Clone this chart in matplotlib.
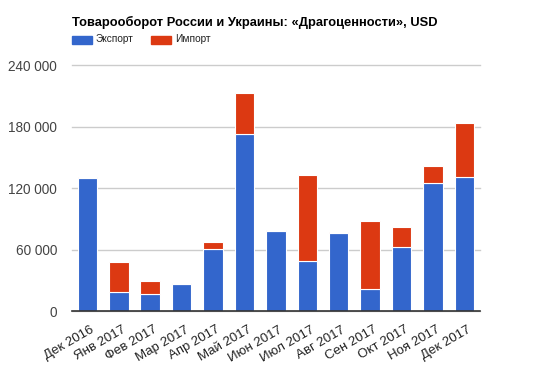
import matplotlib
matplotlib.use("Agg")
import matplotlib.pyplot as plt
from matplotlib.patches import Rectangle
from matplotlib.transforms import ScaledTranslation

categories = ["Дек 2016", "Янв 2017", "Фев 2017", "Мар 2017", "Апр 2017", "Май 2017",
              "Июн 2017", "Июл 2017", "Авг 2017", "Сен 2017", "Окт 2017", "Ноя 2017", "Дек 2017"]
export_vals = [130300, 18500, 17200, 26900, 61100, 173300, 78600, 49400, 76700, 22000, 63000, 124900, 130700]
import_vals = [1000, 29900, 12700, 600, 6500, 39700, 700, 83600, 500, 66100, 19200, 16900, 53000]
yticks = [0, 60000, 120000, 180000, 240000]
ytick_labels = ["0", "60 000", "120 000", "180 000", "240 000"]

BLUE = "#3366cc"
RED = "#dc3912"

plt.rcParams['font.family'] = ['Liberation Sans', 'DejaVu Sans']

fig = plt.figure(figsize=(5.46, 3.75), dpi=100)
ax = fig.add_axes([71.7/546, 1-311.3/375, (480-71.7)/546, (311.3-65.3)/375])

x = list(range(len(categories)))
w = 0.62
ax.bar(x, export_vals, width=w, color=BLUE, edgecolor="white", linewidth=0.8, zorder=3)
ax.bar(x, import_vals, width=w, bottom=export_vals, color=RED, edgecolor="white", linewidth=0.8, zorder=3)

ax.set_xlim(-0.5, len(categories) - 0.5)
ax.set_ylim(0, 240000)
ax.set_yticks(yticks)
ax.set_yticklabels(ytick_labels)
ax.yaxis.grid(True, color="#cccccc", linewidth=1, zorder=0)
ax.set_axisbelow(True)
for s in ["top", "right", "left"]:
    ax.spines[s].set_visible(False)
ax.spines["bottom"].set_color("#333333")
ax.spines["bottom"].set_linewidth(1.2)
ax.spines["bottom"].set_zorder(4)
ax.tick_params(axis="y", length=0, pad=10.6, labelsize=9.8, labelcolor="#444444")
ax.tick_params(axis="x", length=0, pad=9, labelsize=9.5, labelcolor="#222222")
ax.set_xticks(x)
ax.set_xticklabels(categories, rotation=30, ha="right", rotation_mode="anchor")
offset = ScaledTranslation(3/100, 0, fig.dpi_scale_trans)
for lbl in ax.get_xticklabels():
    lbl.set_transform(lbl.get_transform() + offset)
for gl in ax.get_ygridlines():
    gl.set_clip_on(False)

fig.text(72/546, 1-22.5/375, "Товарооборот России и Украины: «Драгоценности», USD",
         fontsize=9.3, fontweight="bold", color="#000000", va="center", ha="left")

# legend
leg_y = 1-39.5/375
for (lx, tx, col, lab) in [(72, 96, BLUE, "Экспорт"), (151, 175.5, RED, "Импорт")]:
    fig.patches.append(Rectangle((lx/546, 1-43.5/375), 20/546, 7.5/375,
                                 transform=fig.transFigure, color=col, figure=fig))
    fig.text(tx/546, leg_y, lab, fontsize=7.3, color="#222222", va="center", ha="left")

fig.savefig("out.png", dpi=100)
